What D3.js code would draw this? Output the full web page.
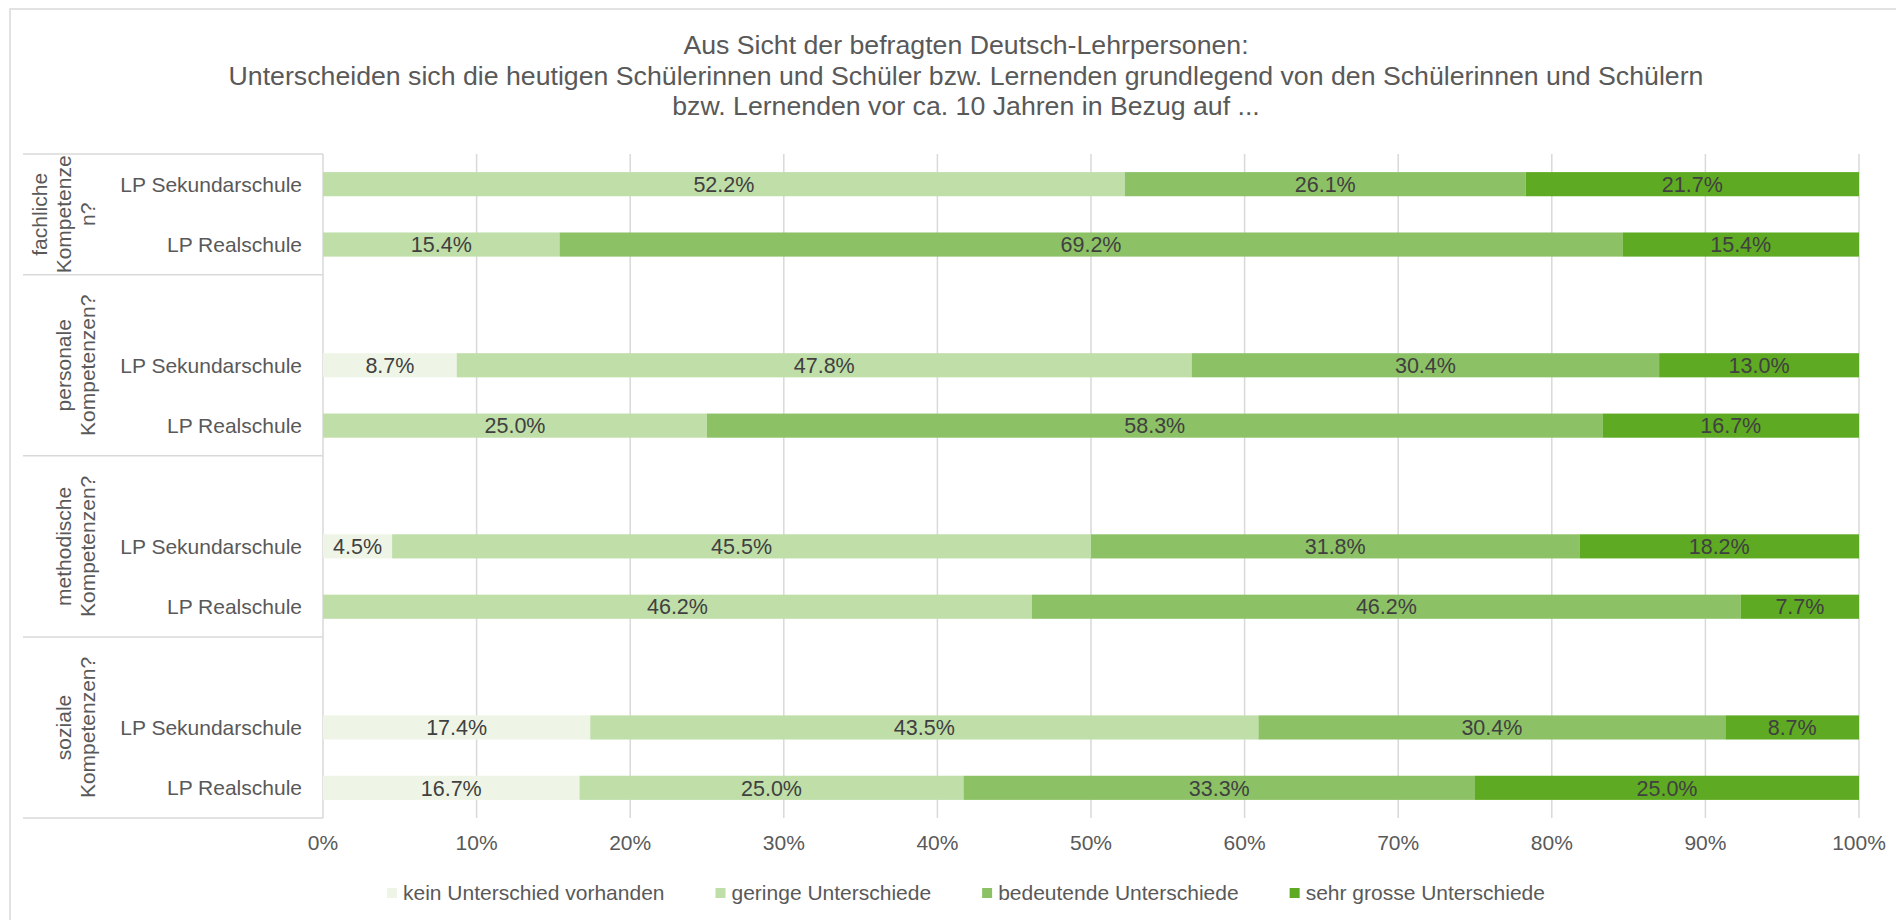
<!DOCTYPE html>
<html>
<head>
<meta charset="utf-8">
<script src="https://cdn.jsdelivr.net/npm/d3@7"></script>
<style>
  body { margin: 0; background: #fff; }
  svg { display: block; font-family: "Liberation Sans", Arial, sans-serif; }
</style>
</head>
<body>
<svg width="1896" height="920"></svg>
<script>
// chart values
const titleLines = [
    'Aus Sicht der befragten Deutsch-Lehrpersonen:',
    'Unterscheiden sich die heutigen Schülerinnen und Schüler bzw. Lernenden grundlegend von den Schülerinnen und Schülern',
    'bzw. Lernenden vor ca. 10 Jahren in Bezug auf ...'
];
const groupLabels = [
    ['fachliche', 'Kompetenze', 'n?'],
    ['personale', 'Kompetenzen?'],
    ['methodische', 'Kompetenzen?'],
    ['soziale', 'Kompetenzen?']
];
const schools = ['LP Sekundarschule', 'LP Realschule'];
const seriesNames = ['kein Unterschied vorhanden', 'geringe Unterschiede', 'bedeutende Unterschiede', 'sehr grosse Unterschiede'];
const seriesColors = ['#eef5e6', '#bfdea8', '#8cc265', '#5eaa22'];

// one value per bar, in order group by group: Sekundarschule, Realschule
const keinUnterschied = [0, 0, 8.7, 0, 4.5, 0, 17.4, 16.7];
const geringe = [52.2, 15.4, 47.8, 25.0, 45.5, 46.2, 43.5, 25.0];
const bedeutende = [26.1, 69.2, 30.4, 58.3, 31.8, 46.2, 30.4, 33.3];
const sehrGrosse = [21.7, 15.4, 13.0, 16.7, 18.2, 7.7, 8.7, 25.0];
const xTicks = [0, 0.1, 0.2, 0.3, 0.4, 0.5, 0.6, 0.7, 0.8, 0.9, 1];

const svg = d3.select('svg');
const textColor = '#595959';
const gridColor = '#d9d9d9';

// rows: first group has no blank slot, the others get one on top
const rows = [];
const bars = [];
groupLabels.forEach((g, gi) => {
    if (gi > 0) rows.push(`g${gi}-blank`);
    schools.forEach((s, si) => {
        const key = `g${gi}-${si}`;
        rows.push(key);
        const i = gi * 2 + si;
        const vals = [keinUnterschied[i], geringe[i], bedeutende[i], sehrGrosse[i]];
        bars.push({ key, group: gi, school: s, vals });
    });
});

const x = d3.scaleLinear().domain([0, 1]).range([323, 1859]);
const y = d3.scaleBand().domain(rows).range([154, 818]).paddingInner(0.6).paddingOuter(0.3);
const step = y.step();
const slotTop = k => y(k) - step * 0.3;

// chart border
svg.append('rect')
    .attr('x', 10).attr('y', 9)
    .attr('width', 1950).attr('height', 1000)
    .attr('fill', 'none')
    .attr('stroke', gridColor).attr('stroke-width', 1.5);

// title
svg.append('g').selectAll('text').data(titleLines)
    .enter().append('text')
    .attr('x', 966)
    .attr('y', (d, i) => 54 + i * 30.5)
    .attr('text-anchor', 'middle')
    .attr('font-size', 26.7)
    .attr('fill', textColor)
    .text(d => d);

// gridlines
svg.append('g').selectAll('line').data(xTicks)
    .enter().append('line')
    .attr('x1', d => x(d)).attr('x2', d => x(d))
    .attr('y1', 154).attr('y2', 818)
    .attr('stroke', gridColor).attr('stroke-width', 1.5);

// x tick labels
svg.append('g').selectAll('text').data(xTicks)
    .enter().append('text')
    .attr('x', d => x(d))
    .attr('y', 850)
    .attr('text-anchor', 'middle')
    .attr('font-size', 21)
    .attr('fill', textColor)
    .text(d3.format('.0%'));

// category separators
const sepYs = [154, 818];
groupLabels.forEach((g, gi) => { if (gi > 0) sepYs.push(slotTop(`g${gi}-blank`)); });
svg.append('g').selectAll('line').data(sepYs)
    .enter().append('line')
    .attr('x1', 23).attr('x2', 323)
    .attr('y1', d => d).attr('y2', d => d)
    .attr('stroke', gridColor).attr('stroke-width', 1.5);

// stacked bars (100% stacked, normalised like the spreadsheet does)
const segs = [];
bars.forEach(b => {
    const total = d3.sum(b.vals);
    let acc = 0;
    b.vals.forEach((v, si) => {
        if (v > 0) segs.push({ key: b.key, series: si, v, x0: acc / total, x1: (acc + v) / total });
        acc += v;
    });
});

svg.append('g').selectAll('rect').data(segs)
    .enter().append('rect')
    .attr('x', d => x(d.x0))
    .attr('y', d => y(d.key))
    .attr('width', d => x(d.x1) - x(d.x0))
    .attr('height', y.bandwidth())
    .attr('fill', d => seriesColors[d.series]);

svg.append('g').selectAll('text').data(segs)
    .enter().append('text')
    .attr('x', d => (x(d.x0) + x(d.x1)) / 2)
    .attr('y', d => y(d.key) + y.bandwidth() / 2)
    .attr('dy', '0.36em')
    .attr('text-anchor', 'middle')
    .attr('font-size', 21.5)
    .attr('fill', '#404040')
    .text(d => d.v.toFixed(1) + '%');

// inner category labels
svg.append('g').selectAll('text').data(bars)
    .enter().append('text')
    .attr('x', 302)
    .attr('y', d => y(d.key) + y.bandwidth() / 2)
    .attr('dy', '0.36em')
    .attr('text-anchor', 'end')
    .attr('font-size', 21)
    .attr('fill', textColor)
    .text(d => d.school);

// outer (rotated) group labels
groupLabels.forEach((lines, gi) => {
    const top = gi === 0 ? 154 : slotTop(`g${gi}-blank`);
    const bottom = y(`g${gi}-1`) + y.bandwidth() + step * 0.3;
    const cy = (top + bottom) / 2;
    const n = lines.length;
    svg.append('g')
        .selectAll('text').data(lines)
        .enter().append('text')
        .attr('transform', (d, i) => `translate(${87 - (n - 1 - i) * 24},${cy}) rotate(-90)`)
        .attr('dy', '0.36em')
        .attr('text-anchor', 'middle')
        .attr('font-size', 21)
        .attr('fill', textColor)
        .text(d => d);
});

// legend
const legend = svg.append('g');
let lx = 387;
seriesNames.forEach((name, i) => {
    legend.append('rect')
        .attr('x', lx).attr('y', 888)
        .attr('width', 10).attr('height', 10)
        .attr('fill', seriesColors[i]);
    const t = legend.append('text')
        .attr('x', lx + 16).attr('y', 900)
        .attr('font-size', 21)
        .attr('fill', textColor)
        .text(name);
    lx += 16 + t.node().getComputedTextLength() + 51;
});
</script>
</body>
</html>
